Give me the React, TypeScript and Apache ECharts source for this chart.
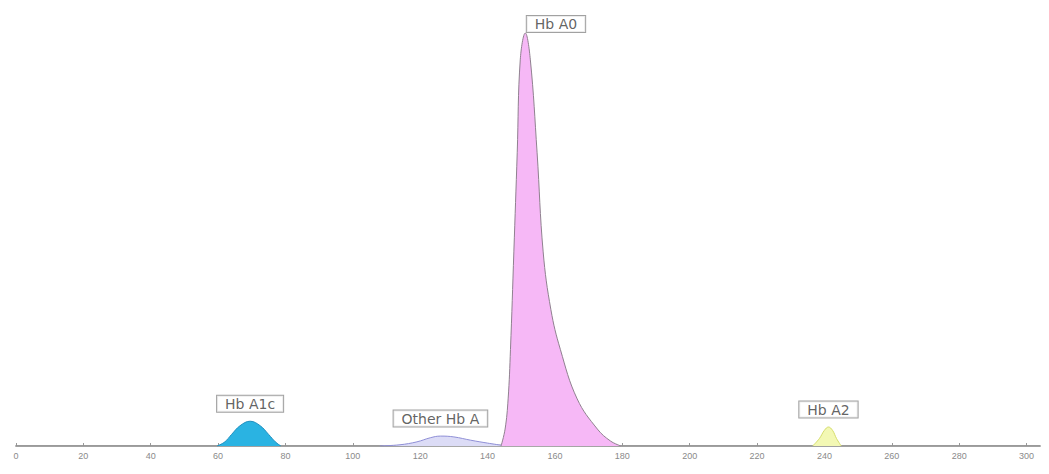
import React, { useEffect, useRef } from "react";
import * as echarts from "echarts";

// Retention time ticks
const xTicks = [0, 20, 40, 60, 80, 100, 120, 140, 160, 180, 200, 220, 240, 260, 280, 300];

// Peak profiles: [time, signal]
const hbA1c: number[][] = [
  [59.7, 0], [62, 1.0], [64, 2.8], [66.5, 4.9], [69.5, 6.0], [72.5, 4.9], [75, 2.8], [77, 1.0], [78.6, 0],
];
const otherHbA: number[][] = [
  [108, 0], [114, 0.3], [119, 1.0], [123, 2.0], [126, 2.4], [130, 2.2], [135, 1.4], [140, 0.7], [144, 0.2],
];
const hbA0: number[][] = [
  [144.0, 0], [145.2, 4.1], [146.1, 11.4], [146.8, 23.4], [147.8, 47], [148.8, 71], [149.7, 93.5],
  [151.2, 100], [152.7, 93.5], [154.7, 71], [156.5, 47], [158.8, 33], [161.6, 23.4], [166.6, 11.4],
  [172.6, 4.1], [176.5, 1.2], [179.6, 0],
];
const hbA2: number[][] = [
  [236.5, 0], [238.5, 1.8], [240, 3.8], [241.2, 4.6], [242.4, 3.8], [243.6, 1.8], [245, 0],
];
const baseline: number[][] = [[0, 0], [100, 0], [108, 0], [144, 0.2], [180, 0], [304, 0]];

// Peak names and their apex points
const peakNames = ["Hb A1c", "Other Hb A", "Hb A0", "Hb A2"];
const peakApex: number[][] = [[69.5, 6.0], [126, 2.4], [151.2, 100], [241.2, 4.6]];

export default function App() {
  const ref = useRef<HTMLDivElement>(null);
  useEffect(() => {
    document.body.style.margin = "0";
    if (!ref.current) return;
    const chart = echarts.init(ref.current, null, { renderer: "svg" });
    const peak = (data: number[][], fill: string, stroke: string, z: number) => ({
      type: "line",
      data,
      smooth: 0.4,
      symbol: "none",
      z,
      lineStyle: { color: stroke, width: 1 },
      areaStyle: { color: fill, opacity: 1 },
    });
    const labelBase = {
      show: true,
      backgroundColor: "#ffffff",
      borderColor: "#8a8a8a",
      borderWidth: 1,
      padding: [1, 8, 0, 8],
      fontFamily: "DejaVu Sans",
      fontSize: 14,
      lineHeight: 15,
      color: "#3a3a3a",
    };
    chart.setOption({
      animation: false,
      grid: { left: 16, right: 9, top: 33, bottom: 28 },
      xAxis: {
        type: "value",
        min: 0,
        max: 304,
        interval: 20,
        axisLine: { lineStyle: { color: "#a8a8a8", width: 2 } },
        axisTick: { show: true, length: 3, inside: true, lineStyle: { color: "#999" } },
        axisLabel: {
          color: "#8a8a8a",
          fontSize: 9,
          margin: 5,
          showMaxLabel: false,
          formatter: (v: number) => (xTicks.includes(v) ? String(v) : ""),
        },
        splitLine: { show: false },
      },
      yAxis: { type: "value", min: 0, max: 100, show: false },
      series: [
        {
          type: "line",
          data: baseline,
          symbol: "none",
          z: 1,
          lineStyle: { color: "#8c8c8c", width: 1 },
        },
        peak(hbA1c, "#2ab3e2", "#1f8fbf", 3),
        peak(otherHbA, "#dcdcf6", "#8f8fd6", 3),
        peak(hbA0, "#f6b8f6", "#8f808f", 3),
        peak(hbA2, "#f3f8b4", "#d4dc6a", 3),
        {
          type: "scatter",
          symbolSize: 1,
          itemStyle: { color: "rgba(0,0,0,0)" },
          z: 10,
          data: peakApex.map((p, i) => ({
            value: p,
            label:
              i === 2
                ? { ...labelBase, formatter: peakNames[i], position: "right", distance: 1, offset: [0, -9] }
                : { ...labelBase, formatter: peakNames[i], position: "top", distance: 9 },
          })),
        },
      ],
    });
    return () => chart.dispose();
  }, []);
  return <div ref={ref} style={{ width: 1049, height: 474 }} />;
}
